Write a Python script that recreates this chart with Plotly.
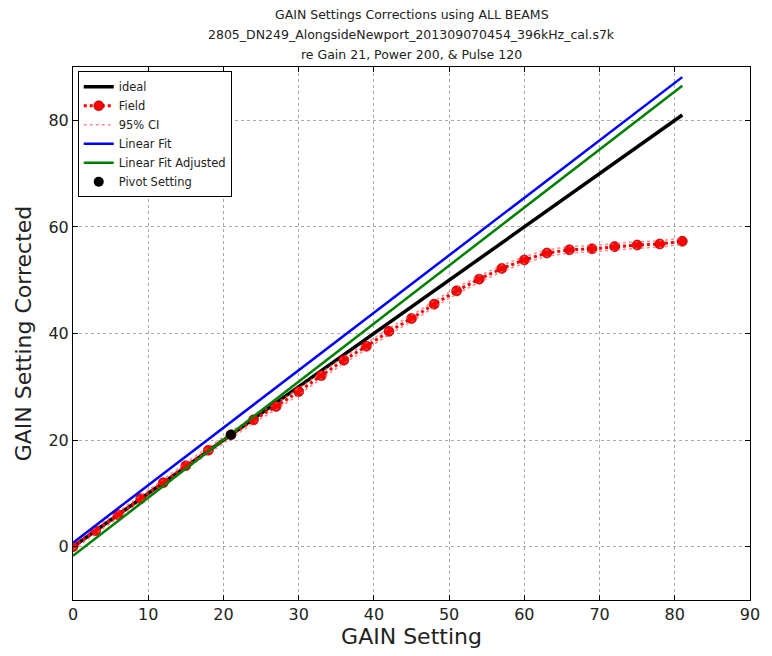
import plotly.graph_objects as go

# ---- data ----
gain_setting = [0, 3, 6, 9, 12, 15, 18, 21, 24, 27, 30, 33, 36, 39, 42, 45, 48, 51, 54, 57,
                60, 63, 66, 69, 72, 75, 78, 81]
field_corrected = [0.0, 3.0, 6.0, 9.0, 12.0, 15.2, 18.1, 21.0, 23.8, 26.3, 29.1, 32.1, 35.0, 37.6,
                   40.4, 42.8, 45.5, 48.0, 50.2, 52.2, 53.8, 55.1, 55.7, 55.9, 56.3, 56.6, 56.8, 57.3]
ci_upper = [0.6, 3.6, 6.6, 9.6, 12.6, 15.8, 18.7, 21.6, 24.4, 26.9, 29.7, 32.7, 35.6, 38.2,
            41.0, 43.4, 46.1, 48.6, 50.8, 52.8, 54.4, 55.7, 56.3, 56.5, 56.9, 57.2, 57.4, 57.9]
ci_lower = [-0.6, 2.4, 5.4, 8.4, 11.4, 14.6, 17.5, 20.4, 23.2, 25.7, 28.5, 31.5, 34.4, 37.0,
            39.8, 42.2, 44.9, 47.4, 49.6, 51.6, 53.2, 54.5, 55.1, 55.3, 55.7, 56.0, 56.2, 56.7]
line_x = [0, 81]
ideal_y = [0, 81]
linear_fit_y = [0.75, 88.1]
linear_fit_adj_y = [-1.7, 86.5]
pivot_x = [21]
pivot_y = [21]

title_lines = ["GAIN Settings Corrections using ALL BEAMS",
               "2805_DN249_AlongsideNewport_201309070454_396kHz_cal.s7k",
               "re Gain 21, Power 200, & Pulse 120"]
x_ticks = [0, 10, 20, 30, 40, 50, 60, 70, 80, 90]
y_ticks = [0, 20, 40, 60, 80]

FONT = "DejaVu Sans"

fig = go.Figure()
fig.add_trace(go.Scatter(x=line_x, y=ideal_y, mode="lines", name="ideal",
                         line=dict(color="black", width=3.5)))
fig.add_trace(go.Scatter(x=gain_setting, y=field_corrected, mode="lines+markers", name="Field",
                         line=dict(color="red", width=3, dash="dot"),
                         marker=dict(color="red", size=10, line=dict(color="#7a0000", width=0.6))))
fig.add_trace(go.Scatter(x=gain_setting, y=ci_upper, mode="lines", name="95% CI",
                         line=dict(color="rgba(255,90,90,0.7)", width=1.5, dash="dot"),
                         legendgroup="ci"))
fig.add_trace(go.Scatter(x=gain_setting, y=ci_lower, mode="lines", name="95% CI",
                         line=dict(color="rgba(255,90,90,0.7)", width=1.5, dash="dot"),
                         legendgroup="ci", showlegend=False))
fig.add_trace(go.Scatter(x=line_x, y=linear_fit_y, mode="lines", name="Linear Fit",
                         line=dict(color="blue", width=2.5)))
fig.add_trace(go.Scatter(x=line_x, y=linear_fit_adj_y, mode="lines", name="Linear Fit Adjusted",
                         line=dict(color="#008000", width=2.5)))
fig.add_trace(go.Scatter(x=pivot_x, y=pivot_y, mode="markers", name="Pivot Setting",
                         marker=dict(color="black", size=10)))

axis_common = dict(showline=True, linecolor="black", linewidth=1, mirror="ticks",
                   ticks="inside", ticklen=5, tickcolor="black",
                   showgrid=True, gridcolor="#a8a8a8", griddash="dot", gridwidth=1,
                   zeroline=False, tickfont=dict(family=FONT, size=16, color="#222"))

fig.update_layout(
    width=772, height=656,
    margin=dict(l=73, r=15, t=67, b=52),
    paper_bgcolor="white", plot_bgcolor="white",
    font=dict(family=FONT, color="#222"),
    xaxis=dict(range=[0, 90], tickvals=x_ticks,
               title=dict(text="GAIN Setting", font=dict(family=FONT, size=22, color="#222"), standoff=4),
               **axis_common),
    yaxis=dict(range=[-10, 90], tickvals=y_ticks,
               title=dict(text="GAIN Setting Corrected", font=dict(family=FONT, size=22, color="#222"), standoff=10),
               **axis_common),
    legend=dict(x=0.007, y=0.992, xanchor="left", yanchor="top",
                bgcolor="white", bordercolor="black", borderwidth=1,
                font=dict(family=FONT, size=11.5, color="#222"),
                itemwidth=30, tracegroupgap=0),
    showlegend=True,
)

for i, (txt, py) in enumerate(zip(title_lines, [14, 34, 54])):
    fig.add_annotation(text=txt, xref="paper", yref="paper", x=0.5, y=(604.4 - py) / 537.3,
                       xanchor="center", yanchor="middle", showarrow=False,
                       font=dict(family=FONT, size=12.5, color="#222"))

fig.write_html("out.html")
